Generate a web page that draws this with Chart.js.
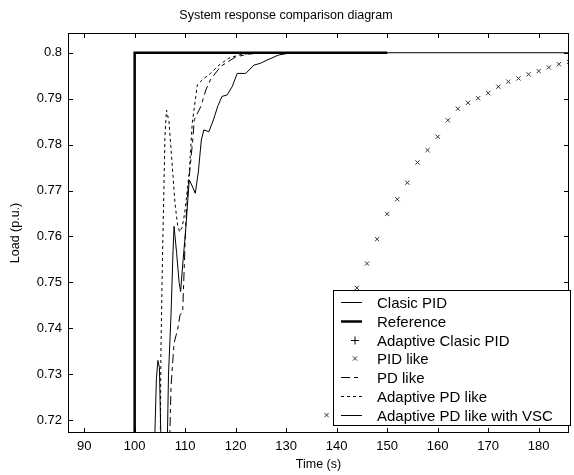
<!DOCTYPE html>
<html>
<head>
<meta charset="utf-8">
<script src="https://cdn.jsdelivr.net/npm/chart.js@4.4.0/dist/chart.umd.min.js"></script>
<style>
  html, body { margin: 0; padding: 0; background: #fff; }
  #wrap { width: 574px; height: 475px; }
</style>
</head>
<body>
<div id="wrap"><canvas id="chartResponse"></canvas></div>
<script>
// axis ticks
const xTicks = [90, 100, 110, 120, 130, 140, 150, 160, 170, 180];
const yTicks = [0.72, 0.73, 0.74, 0.75, 0.76, 0.77, 0.78, 0.79, 0.8];

// Reference step
const refT = [86, 100, 100, 150];
const refY = [0.70, 0.70, 0.80, 0.80];

// Clasic PID (only the short spike is inside the window)
const classicT = [103.7, 104.3, 104.6, 104.9, 105.4];
const classicY = [0.705, 0.729, 0.733, 0.7315, 0.705];

// Adaptive Clasic PID (outside the window)
const adaptClassicT = [];
const adaptClassicY = [];

// PID like (x markers)
const pidT = [138, 140, 142, 144, 146, 148, 150, 152, 154, 156, 158, 160, 162,
  164, 166, 168, 170, 172, 174, 176, 178, 180, 182, 184, 186];
const pidY = [0.7211, 0.7310, 0.7405, 0.7488, 0.7541, 0.7594, 0.7649, 0.7681,
  0.7717, 0.7761, 0.7788, 0.7817, 0.7853, 0.7878, 0.7891, 0.7901, 0.7912,
  0.7926, 0.7937, 0.7944, 0.7953, 0.7960, 0.7968, 0.7975, 0.7980];

// PD like (dash-dot)
const pdT = [106.7, 107.2, 107.8, 108.5, 109.0, 109.5, 110.1, 110.4, 110.8,
  111.5, 111.8, 113.1, 114.1, 115.0, 117.0, 120.0, 122.6, 125.0, 150.0];
const pdY = [0.705, 0.7274, 0.7368, 0.7397, 0.7430, 0.7434, 0.7622, 0.7680,
  0.7730, 0.7810, 0.7854, 0.7883, 0.7919, 0.7941, 0.7970, 0.7991, 0.7997,
  0.8000, 0.8000];

// Adaptive PD like (short dashes)
const adaptPdT = [105.0, 105.2, 105.5, 105.8, 106.0, 106.3, 106.8, 107.2,
  107.6, 108.0, 108.5, 108.9, 109.4, 109.9, 110.4, 110.8, 111.4, 112.1, 112.4,
  113.5, 115.0, 116.7, 118.6, 120.6, 123.0, 150.0];
const adaptPdY = [0.705, 0.735, 0.755, 0.771, 0.782, 0.7875, 0.785, 0.779,
  0.773, 0.767, 0.7625, 0.7610, 0.7620, 0.7650, 0.7700, 0.7738, 0.7847,
  0.7904, 0.7930, 0.7942, 0.7955, 0.7973, 0.7988, 0.7995, 0.7999, 0.8000];

// Adaptive PD like with VSC (solid)
const vscT = [106.3, 106.7, 107.2, 107.6, 107.8, 108.3, 108.8, 109.1, 109.6,
  110.1, 110.8, 111.3, 112.0, 112.6, 113.2, 113.7, 114.7, 115.6, 116.5, 117.3,
  118.3, 119.3, 120.3, 122.0, 123.6, 124.9, 126.2, 128.5, 131.0, 186.0];
const vscY = [0.705, 0.730, 0.743, 0.757, 0.7622, 0.7565, 0.7500, 0.7480,
  0.7550, 0.7614, 0.7723, 0.7712, 0.7694, 0.7740, 0.7810, 0.7832, 0.7828,
  0.7854, 0.7885, 0.7905, 0.7908, 0.7926, 0.7955, 0.7955, 0.7973, 0.7977,
  0.7984, 0.7995, 0.8000, 0.8000];

function toPoints(t, v) {
  return t.map((x, i) => ({ x: x, y: v[i] }));
}

Chart.defaults.font.family = "'Liberation Sans', Arial, sans-serif";
Chart.defaults.color = "#000";

const line = (label, t, v, width, dash) => ({
  label: label,
  data: toPoints(t, v),
  borderColor: "#000",
  borderWidth: width,
  borderDash: dash,
  pointRadius: 0,
  tension: 0,
});

// box + inward ticks on all four sides
const framePlugin = {
  id: "frame",
  afterDatasetsDraw(chart) {
    const { ctx, chartArea: a, scales } = chart;
    ctx.save();
    ctx.strokeStyle = "#000";
    ctx.lineWidth = 1;
    ctx.setLineDash([]);
    ctx.strokeRect(a.left + 0.5, a.top + 0.5, a.right - a.left - 1, a.bottom - a.top - 1);
    ctx.beginPath();
    xTicks.forEach((v) => {
      const px = Math.round(scales.x.getPixelForValue(v)) + 0.5;
      ctx.moveTo(px, a.bottom);
      ctx.lineTo(px, a.bottom - 5);
      ctx.moveTo(px, a.top);
      ctx.lineTo(px, a.top + 5);
    });
    yTicks.forEach((v) => {
      const py = Math.round(scales.y.getPixelForValue(v)) + 0.5;
      ctx.moveTo(a.left, py);
      ctx.lineTo(a.left + 5, py);
      ctx.moveTo(a.right, py);
      ctx.lineTo(a.right - 5, py);
    });
    ctx.stroke();
    ctx.restore();
  },
};

// MATLAB-like boxed legend in the lower right corner
const legendPlugin = {
  id: "boxLegend",
  afterDraw(chart) {
    const ctx = chart.ctx;
    const box = { left: 333, top: 290, right: 571, bottom: 426 };
    ctx.save();
    ctx.fillStyle = "#fff";
    ctx.fillRect(box.left, box.top, box.right - box.left, box.bottom - box.top);
    ctx.strokeStyle = "#000";
    ctx.lineWidth = 1;
    ctx.strokeRect(box.left + 0.5, box.top + 0.5, box.right - box.left - 1, box.bottom - box.top - 1);
    ctx.font = "15px 'Liberation Sans', Arial, sans-serif";
    ctx.textBaseline = "middle";
    ctx.textAlign = "left";
    chart.data.datasets.forEach((ds, i) => {
      const y = Math.round(box.top + 11.7 + i * 18.9) + 0.5;
      ctx.strokeStyle = "#000";
      ctx.fillStyle = "#000";
      if (ds.showLine === false) {
        ctx.setLineDash([]);
        ctx.lineWidth = 1;
        ctx.strokeStyle = ds.pointBorderColor || "#000";
        Chart.helpers.drawPoint(ctx, {
          pointStyle: ds.pointStyle,
          radius: ds.pointRadius,
          rotation: 0,
          borderWidth: 1,
        }, 355, y);
      } else {
        ctx.setLineDash(ds.borderDash || []);
        ctx.lineWidth = ds.borderWidth;
        ctx.beginPath();
        ctx.moveTo(341, y);
        ctx.lineTo(362, y);
        ctx.stroke();
      }
      ctx.setLineDash([]);
      ctx.fillStyle = "#000";
      ctx.fillText(ds.label, 377, y + 1);
    });
    ctx.restore();
  },
};

const ctx = document.getElementById("chartResponse").getContext("2d");
new Chart(ctx, {
  type: "line",
  data: {
    datasets: [
      line("Clasic PID", classicT, classicY, 1, []),
      line("Reference", refT, refY, 2.5, []),
      {
        label: "Adaptive Clasic PID",
        data: toPoints(adaptClassicT, adaptClassicY),
        showLine: false,
        pointStyle: "cross",
        pointRadius: 4,
        pointBorderColor: "#000",
        pointBorderWidth: 1,
      },
      {
        label: "PID like",
        data: toPoints(pidT, pidY),
        showLine: false,
        pointStyle: "crossRot",
        pointRadius: 3,
        pointBorderColor: "#333",
        pointBorderWidth: 1,
      },
      line("PD like", pdT, pdY, 1, [9, 4, 4, 4]),
      line("Adaptive PD like", adaptPdT, adaptPdY, 1, [3, 3]),
      line("Adaptive PD like with VSC", vscT, vscY, 1, []),
    ],
  },
  options: {
    responsive: true,
    maintainAspectRatio: false,
    animation: false,
    layout: { padding: { left: 0, right: 2, top: 0, bottom: 0 } },
    plugins: {
      legend: { display: false },
      tooltip: { enabled: false },
      title: {
        display: true,
        text: "System response comparison diagram",
        font: { size: 12.5, weight: "normal" },
        color: "#000",
        padding: { top: 8, bottom: 10 },
      },
    },
    scales: {
      x: {
        type: "linear",
        min: 86.8,
        max: 186,
        afterFit: (s) => { s.height = 42; },
        afterBuildTicks: (s) => { s.ticks = xTicks.map((v) => ({ value: v })); },
        grid: { display: false, drawTicks: false },
        border: { display: false },
        ticks: { font: { size: 13 }, color: "#000", padding: 6, maxRotation: 0 },
        title: {
          display: true,
          text: "Time (s)",
          font: { size: 12.5 },
          color: "#000",
          padding: { top: 0, bottom: 2.5 },
        },
      },
      y: {
        type: "linear",
        min: 0.7172,
        max: 0.8043,
        afterFit: (s) => { s.width = 68; },
        afterBuildTicks: (s) => { s.ticks = yTicks.map((v) => ({ value: v })); },
        grid: { display: false, drawTicks: false },
        border: { display: false },
        ticks: {
          font: { size: 13 },
          color: "#000",
          padding: 6,
          callback: (v) => String(+v.toFixed(2)),
        },
        title: {
          display: true,
          text: "Load (p.u.)",
          font: { size: 12.5 },
          color: "#000",
          padding: { top: 8.5, bottom: 0 },
        },
      },
    },
  },
  plugins: [framePlugin, legendPlugin],
});
</script>
</body>
</html>
